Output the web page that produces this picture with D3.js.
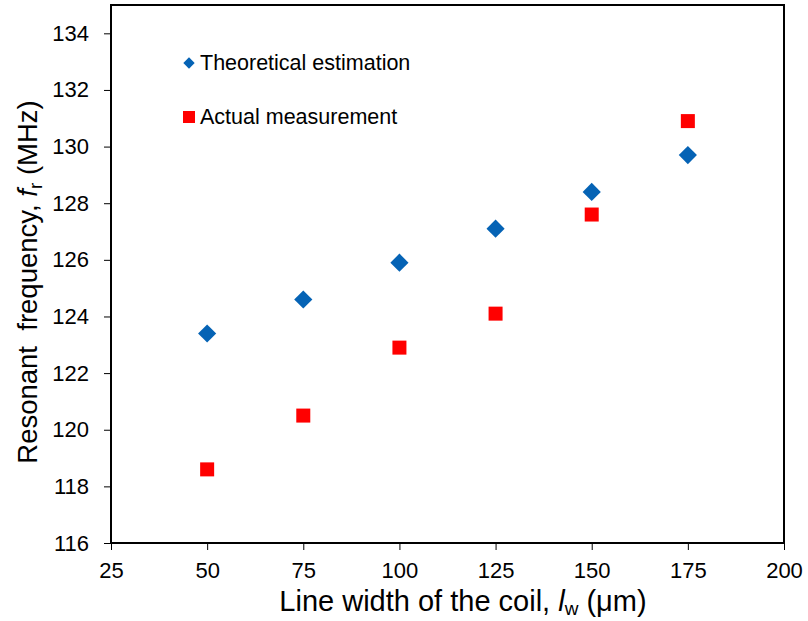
<!DOCTYPE html>
<html>
<head>
<meta charset="utf-8" />
<script src="https://cdn.jsdelivr.net/npm/d3@7"></script>
<title>Resonant frequency</title>
<style>
  body { margin: 0; background: #fff; }
  text { font-family: "Liberation Sans", Arial, sans-serif; fill: #000; }
</style>
</head>
<body>
<svg width="808" height="621" id="mainsvg"></svg>
<script>
  // data
  const lineWidths = [50, 75, 100, 125, 150, 175];
  const theoretical = [123.4, 124.6, 125.9, 127.1, 128.4, 129.7];
  const measured = [118.6, 120.5, 122.9, 124.1, 127.6, 130.9];
  const xTicks = [25, 50, 75, 100, 125, 150, 175, 200];
  const yTicks = [116, 118, 120, 122, 124, 126, 128, 130, 132, 134];

  const svg = d3.select('#mainsvg');
  const plot = { left: 111, right: 784, top: 5, bottom: 543 };

  const x = d3.scaleLinear().domain([25, 200]).range([plot.left, plot.right]);
  const y = d3.scaleLinear().domain([116, 135]).range([plot.bottom, plot.top]);

  // frame
  svg.append('rect')
    .attr('x', plot.left).attr('y', plot.top)
    .attr('width', plot.right - plot.left).attr('height', plot.bottom - plot.top)
    .attr('fill', 'none').attr('stroke', '#000').attr('stroke-width', 2);

  // y axis
  const yAxis = svg.append('g')
    .attr('transform', `translate(${plot.left},0)`)
    .call(d3.axisLeft(y).tickValues(yTicks).tickSize(7).tickPadding(15).tickFormat(d3.format('d')));
  yAxis.select('.domain').remove();
  yAxis.selectAll('line').attr('stroke', '#000').attr('stroke-width', 1);
  yAxis.selectAll('text').style('font-size', '22px').attr('font-family', null).attr('fill', '#000');

  // x axis
  const xAxis = svg.append('g')
    .attr('transform', `translate(0,${plot.bottom})`)
    .call(d3.axisBottom(x).tickValues(xTicks).tickSize(7).tickPadding(12).tickFormat(d3.format('d')));
  xAxis.select('.domain').remove();
  xAxis.selectAll('line').attr('stroke', '#000').attr('stroke-width', 1);
  xAxis.selectAll('text').style('font-size', '22px').attr('font-family', null).attr('fill', '#000');

  // axis titles
  const xt = svg.append('text')
    .attr('x', 463).attr('y', 611)
    .attr('text-anchor', 'middle')
    .style('font-size', '29px');
  xt.append('tspan').text('Line width of the coil, ');
  xt.append('tspan').attr('font-style', 'italic').text('l');
  xt.append('tspan').attr('dy', 4).style('font-size', '19px').text('w');
  xt.append('tspan').attr('dy', -4).text(' (μm)');

  const yt = svg.append('text')
    .attr('transform', 'translate(37,282) rotate(-90)')
    .attr('text-anchor', 'middle')
    .style('font-size', '27.5px')
    .style('white-space', 'pre');
  yt.append('tspan').text('Resonant  frequency, ');
  yt.append('tspan').attr('font-style', 'italic').text('f');
  yt.append('tspan').attr('dy', 5).style('font-size', '19px').text('r');
  yt.append('tspan').attr('dy', -5).text(' (MHz)');

  // markers
  const diamond = d3.symbol().type(d3.symbolSquare).size(165);
  svg.selectAll('.theo').data(lineWidths).join('path')
    .attr('class', 'theo')
    .attr('d', diamond)
    .attr('transform', (d, i) => `translate(${x(d)},${y(theoretical[i])}) rotate(45)`)
    .attr('fill', '#0563b5');

  svg.selectAll('.meas').data(lineWidths).join('rect')
    .attr('class', 'meas')
    .attr('x', d => x(d) - 7)
    .attr('y', (d, i) => y(measured[i]) - 7)
    .attr('width', 14).attr('height', 14)
    .attr('fill', '#ff0000');

  // legend
  const legend = [
    { label: 'Theoretical estimation', y: 63, kind: 'diamond' },
    { label: 'Actual measurement', y: 117, kind: 'square' }
  ];
  legend.forEach(l => {
    if (l.kind === 'diamond') {
      svg.append('path')
        .attr('d', d3.symbol().type(d3.symbolSquare).size(64)())
        .attr('transform', `translate(189,${l.y}) rotate(45)`)
        .attr('fill', '#0563b5');
    } else {
      svg.append('rect')
        .attr('x', 183).attr('y', l.y - 6)
        .attr('width', 12).attr('height', 12)
        .attr('fill', '#ff0000');
    }
    svg.append('text')
      .attr('x', 200).attr('y', l.y + 7)
      .style('font-size', '21.5px')
      .text(l.label);
  });
</script>
</body>
</html>
